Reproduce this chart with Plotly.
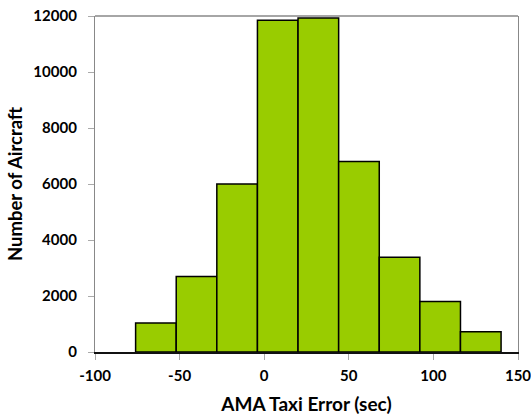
import plotly.graph_objects as go

bin_centers = [-64, -40, -16, 8, 32, 56, 80, 104, 128]
counts = [1040, 2700, 6000, 11850, 11930, 6800, 3385, 1805, 720]
bin_width = 24
x_ticks = [-100, -50, 0, 50, 100, 150]
y_ticks = [0, 2000, 4000, 6000, 8000, 10000, 12000]

font_family = "Lato, Carlito, 'Liberation Sans', sans-serif"

fig = go.Figure(go.Bar(
    x=bin_centers, y=counts, width=[bin_width] * len(bin_centers),
    marker=dict(color="#99CC00", line=dict(color="#000000", width=1.5)),
    hoverinfo="skip",
))

fig.update_layout(
    width=531, height=415,
    margin=dict(l=95, r=13, t=16, b=62.5),
    paper_bgcolor="white", plot_bgcolor="white",
    showlegend=False,
    font=dict(family=font_family, color="#000000"),
    shapes=[dict(type="line", xref="paper", yref="paper", x0=0, x1=1, y0=1, y1=1,
                 line=dict(color="#888888", width=1.3))],
)
fig.update_xaxes(
    range=[-100, 150], tickvals=x_ticks, ticktext=[str(v) for v in x_ticks],
    showgrid=False, zeroline=False, automargin=False,
    showline=True, linecolor="#111111", linewidth=1.5,
    ticks="outside", ticklen=6, tickcolor="#aaaaaa", tickwidth=1.3,
    ticklabeloverflow="allow", ticklabelstandoff=3,
    tickfont=dict(size=15, family=font_family, weight="bold"),
    title=dict(text="AMA Taxi Error (sec)", font=dict(size=19, family=font_family, weight="bold"), standoff=16),
)
fig.update_yaxes(
    range=[0, 12000], tickvals=y_ticks, ticktext=[str(v) for v in y_ticks],
    showgrid=False, zeroline=False, automargin=False,
    showline=True, linecolor="#888888", linewidth=1.3, mirror=True,
    ticks="outside", ticklen=6, tickcolor="#aaaaaa", tickwidth=1.3,
    ticklabelstandoff=8,
    tickfont=dict(size=15, family=font_family, weight="bold"),
    title=dict(text="Number of Aircraft", font=dict(size=18.5, family=font_family, weight="bold"), standoff=5),
)

fig.write_html("out.html", config={"displayModeBar": False},
               post_script="document.body.style.margin='0';document.body.style.overflow='hidden';")
